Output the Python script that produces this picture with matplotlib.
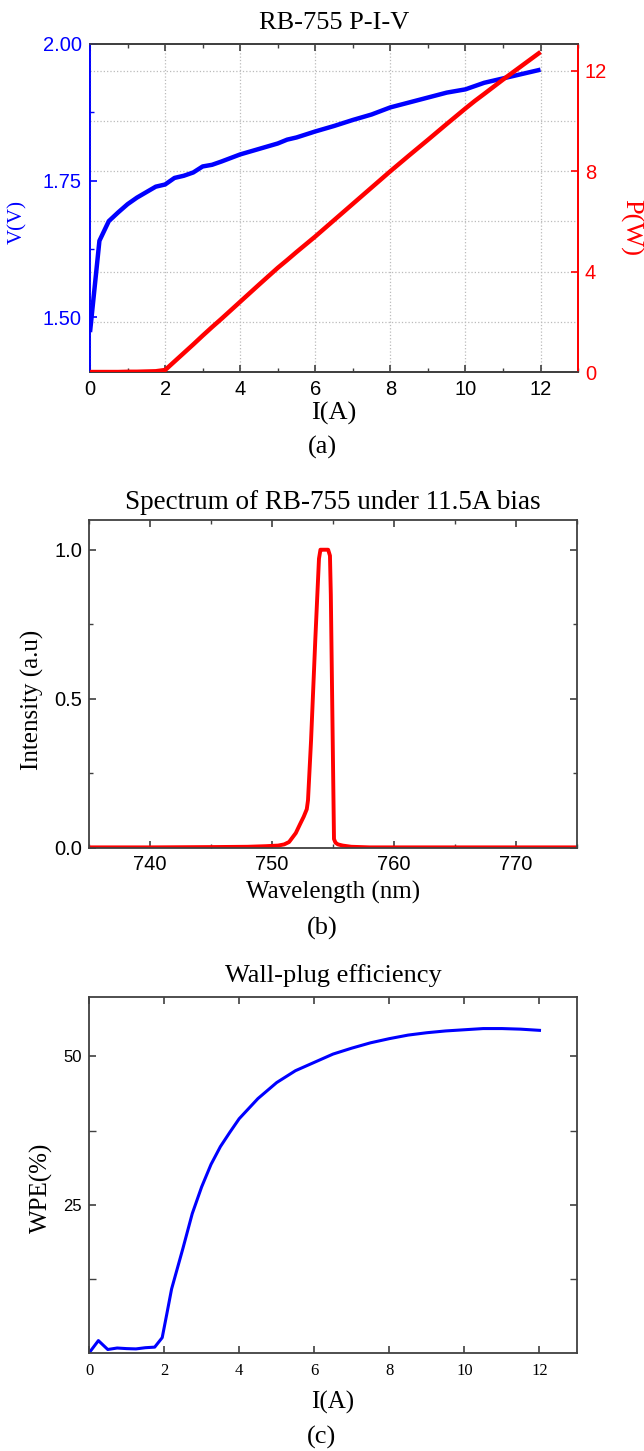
import numpy as np
import matplotlib
matplotlib.use('Agg')
import matplotlib.pyplot as plt
from matplotlib.ticker import MultipleLocator, FormatStrFormatter

SERIF = 'Liberation Serif'
SANS = 'Liberation Sans'

# (a) P-I-V
current_piv = [0, 0.25, 0.5, 0.75, 1.0, 1.25, 1.5, 1.75, 2.0, 2.25, 2.5, 2.75, 3.0, 3.25, 3.5,
               4.0, 4.5, 5.0, 5.25, 5.5, 6.0, 6.5, 7.0, 7.5, 8.0, 8.5, 9.0, 9.5, 10.0, 10.25,
               10.5, 11.0, 11.5, 12.0]
voltage = [1.473, 1.640, 1.676, 1.692, 1.707, 1.719, 1.729, 1.739, 1.743, 1.755, 1.759, 1.765,
           1.776, 1.779, 1.785, 1.798, 1.808, 1.818, 1.825, 1.829, 1.840, 1.850, 1.861, 1.871,
           1.884, 1.893, 1.902, 1.911, 1.917, 1.923, 1.929, 1.937, 1.945, 1.953]
power = [0.0, 0.0, 0.0, 0.0, 0.01, 0.01, 0.02, 0.03, 0.08, 0.42, 0.76, 1.1, 1.45, 1.79, 2.12,
         2.8, 3.48, 4.15, 4.46, 4.78, 5.4, 6.05, 6.7, 7.35, 8.0, 8.63, 9.25, 9.88, 10.5, 10.8,
         11.08, 11.65, 12.2, 12.75]

# (b) spectrum
wavelength = [735, 740, 745, 748, 749.5, 750.5, 751.0, 751.4, 751.95, 752.3, 752.6, 752.85,
              752.95, 753.2, 753.55, 753.85, 753.97, 754.1, 754.6, 754.75, 754.82, 755.08,
              755.2, 755.4, 755.8, 756.5, 758, 765, 775]
intensity = [0.002, 0.002, 0.003, 0.004, 0.006, 0.008, 0.012, 0.02, 0.05, 0.08, 0.105, 0.13,
             0.16, 0.36, 0.70, 0.97, 1.0, 1.0, 1.0, 0.98, 0.85, 0.03, 0.018, 0.012, 0.008,
             0.004, 0.002, 0.002, 0.002]

# (c) wall-plug efficiency
current_wpe = [0, 0.25, 0.5, 0.75, 1.0, 1.25, 1.5, 1.75, 1.95, 2.07, 2.2, 2.5, 2.75, 3.0, 3.25,
               3.5, 3.75, 4.0, 4.5, 5.0, 5.5, 6.0, 6.5, 7.0, 7.5, 8.0, 8.5, 9.0, 9.5, 10.0,
               10.5, 11.0, 11.5, 12.0]
wpe = [0.0, 2.1, 0.6, 0.85, 0.75, 0.7, 0.9, 1.0, 2.6, 6.5, 10.8, 17.6, 23.5, 28.0, 31.8, 34.8,
       37.2, 39.5, 42.9, 45.6, 47.6, 49.0, 50.4, 51.4, 52.3, 53.0, 53.6, 54.0, 54.3, 54.5,
       54.7, 54.7, 54.6, 54.4]

SPINE = '#404040'

fig = plt.figure(figsize=(6.44, 14.51), dpi=100)


def style_ticks(ax, size=14.5, family=SANS):
    ax.tick_params(which='both', direction='in', top=True, right=True, colors=SPINE,
                   labelcolor='black', pad=5)
    ax.tick_params(which='major', length=5, width=1.2)
    ax.tick_params(which='minor', length=3, width=1.0)
    for lab in ax.get_xticklabels() + ax.get_yticklabels():
        lab.set_fontfamily(family)
        lab.set_fontsize(size)
    for s in ax.spines.values():
        s.set_color(SPINE)
        s.set_linewidth(1.3)


# ---------- (a) ----------
ax1 = fig.add_axes([0.1398, 0.7436, 0.7578, 0.2261])
ax2 = ax1.twinx()
# V axis drawn on top so both curves sit above the grid of the P axis
ax1.set_zorder(ax2.get_zorder() + 1)
ax1.patch.set_visible(False)
ax1.plot(current_piv, voltage, color='blue', lw=3.2, solid_capstyle='butt', zorder=3)
ax1.plot(current_piv, power, color='red', lw=3.2, solid_capstyle='butt', zorder=4,
         transform=ax2.transData)
ax1.set_xlim(0, 13)
ax1.set_ylim(1.4, 2.0)
ax2.set_ylim(0, 13.07)
ax1.xaxis.set_major_locator(MultipleLocator(2))
ax1.xaxis.set_minor_locator(MultipleLocator(1))
ax1.set_yticks([1.5, 1.75, 2.0])
ax1.yaxis.set_minor_locator(MultipleLocator(0.125))
ax2.yaxis.set_major_locator(MultipleLocator(4))
ax2.yaxis.set_minor_locator(MultipleLocator(2))
ax1.tick_params(which='both', direction='in', top=True, right=False, colors=SPINE, pad=6)
ax1.tick_params(axis='y', which='both', colors='blue')
ax1.tick_params(which='major', length=5, width=1.2)
ax1.tick_params(which='minor', length=3, width=1.0)
ax1.tick_params(axis='x', labelcolor='black')
ax2.tick_params(which='both', direction='in', colors='red', pad=5)
ax2.tick_params(which='major', length=5, width=1.2)
ax2.tick_params(which='minor', length=0)
ax1.yaxis.set_major_formatter(FormatStrFormatter('%.2f'))
for lab in ax1.get_xticklabels() + ax1.get_yticklabels() + ax2.get_yticklabels():
    lab.set_fontfamily(SANS)
    lab.set_fontsize(14.5)
for a in (ax1, ax2):
    a.spines['top'].set_color(SPINE)
    a.spines['bottom'].set_color(SPINE)
    a.spines['left'].set_color('blue')
    a.spines['right'].set_color('red')
    for s in a.spines.values():
        s.set_linewidth(1.3)
ax2.grid(True, which='both', axis='y', color='#bbbbbb', linestyle=':', lw=0.9)
ax1.grid(True, which='major', axis='x', color='#bbbbbb', linestyle=':', lw=0.9)
ax1.set_title('RB-755 P-I-V', fontfamily=SERIF, fontsize=19, pad=11)
ax1.set_xlabel('I(A)', fontfamily=SERIF, fontsize=19, va='center')
ax1.xaxis.set_label_coords(0.5, -0.125)
ax1.set_ylabel('V(V)', fontfamily=SERIF, fontsize=15, color='blue', va='center')
ax1.yaxis.set_label_coords(-0.148, 0.457)
ax2.set_ylabel('P(W)', fontfamily=SERIF, fontsize=19, color='red', rotation=270, va='center')
ax2.yaxis.set_label_coords(1.107, 0.44)
fig.text(0.5, 1 - 447 / 1451, '(a)', fontfamily=SERIF, fontsize=19, ha='center', va='center')

# ---------- (b) ----------
axb = fig.add_axes([0.1382, 0.4156, 0.7578, 0.2261])
axb.plot(wavelength, intensity, color='red', lw=2.8)
axb.set_xlim(735, 775)
axb.set_ylim(0, 1.1)
axb.xaxis.set_major_locator(MultipleLocator(10))
axb.xaxis.set_minor_locator(MultipleLocator(5))
axb.yaxis.set_major_locator(MultipleLocator(0.5))
axb.yaxis.set_minor_locator(MultipleLocator(0.25))
axb.yaxis.set_major_formatter(FormatStrFormatter('%.1f'))
style_ticks(axb)
axb.set_title('Spectrum of RB-755 under 11.5A bias', fontfamily=SERIF, fontsize=19.5, pad=8)
axb.set_xlabel('Wavelength (nm)', fontfamily=SERIF, fontsize=18, va='center')
axb.xaxis.set_label_coords(0.5, -0.137)
axb.set_ylabel('Intensity (a.u)', fontfamily=SERIF, fontsize=18, va='center')
axb.yaxis.set_label_coords(-0.115, 0.451)
fig.text(0.5, 1 - 928 / 1451, '(b)', fontfamily=SERIF, fontsize=19, ha='center', va='center')

# ---------- (c) ----------
axc = fig.add_axes([0.1382, 0.0675, 0.7578, 0.2453])
axc.plot(current_wpe, wpe, color='blue', lw=2.2)
axc.set_xlim(0, 13)
axc.set_ylim(0, 60)
axc.xaxis.set_major_locator(MultipleLocator(2))
axc.set_yticks([25, 50])
axc.set_yticks([12.5, 37.5], minor=True)
style_ticks(axc, size=12)
axc.tick_params(axis='x', pad=7)
for lab in axc.get_xticklabels():
    lab.set_fontfamily(SERIF)
axc.tick_params(axis='y', which='minor', length=5)
axc.set_title('Wall-plug efficiency', fontfamily=SERIF, fontsize=19, pad=11)
axc.set_xlabel('I(A)', fontfamily=SERIF, fontsize=18, va='center')
axc.xaxis.set_label_coords(0.5, -0.14)
axc.set_ylabel('WPE(%)', fontfamily=SERIF, fontsize=18, va='center')
axc.yaxis.set_label_coords(-0.098, 0.463)
fig.text(0.5, 1 - 1437 / 1451, '(c)', fontfamily=SERIF, fontsize=19, ha='center', va='center')

fig.savefig('out.png', dpi=100)
